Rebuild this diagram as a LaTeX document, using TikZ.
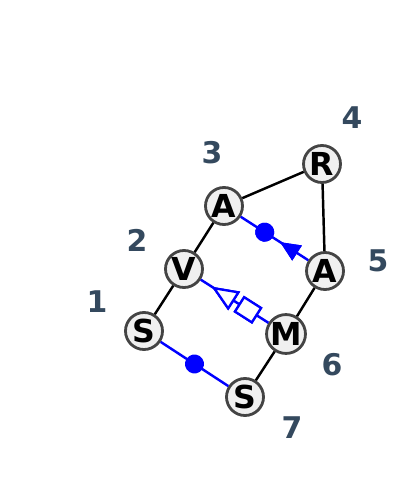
\documentclass[tikz,border=0pt]{standalone}
\usepackage{fontspec}
\setsansfont{DejaVu Sans}
\usetikzlibrary{positioning,calc,decorations.markings}
\definecolor{ringgray}{HTML}{444444}
\definecolor{nodefill}{HTML}{F0F0F0}
\definecolor{numcolor}{HTML}{34495E}

\begin{document}
\begin{tikzpicture}[x=0.02cm,y=-0.02cm,line width=1.4pt,
  main node/.style={circle,draw=ringgray,fill=nodefill,line width=1.6pt,
    minimum size=0.74cm,inner sep=0pt,font=\sffamily\bfseries\fontsize{18}{21}\selectfont},
  num/.style={text=numcolor,font=\sffamily\bfseries\fontsize{17}{20}\selectfont},
  blue edge/.style={draw=blue,line width=1.4pt},
  dot mid/.style={postaction={decorate},decoration={markings,
    mark=at position #1 with {\fill[blue] (0,0) circle (0.19cm);}}},
  solid back/.style={postaction={decorate},decoration={markings,
    mark=at position #1 with {\fill[blue] (0,0) -- (0.4cm,0.18cm) -- (0.4cm,-0.18cm) -- cycle;}}},
  open back/.style={postaction={decorate},decoration={markings,
    mark=at position #1 with {\draw[blue,fill=white,line width=1.3pt] (0,0) -- (0.45cm,0.19cm) -- (0.45cm,-0.19cm) -- cycle;}}},
  open box/.style={postaction={decorate},decoration={markings,
    mark=at position #1 with {\draw[blue,fill=white,line width=1.3pt] (-0.2cm,-0.17cm) rectangle (0.2cm,0.17cm);}}}]
    \useasboundingbox (0,0) rectangle (400,492);
    \node[main node] (S1) at (144,331) {S};
    \node[main node] (V) at (184,269) {V};
    \node[main node] (A3) at (224,206) {A};
    \node[main node] (R) at (322,164) {R};
    \node[main node] (A5) at (325,271) {A};
    \node[main node] (M) at (286,334) {M};
    \node[main node] (S7) at (245,397) {S};
    % position numbers
    \node[num] (n1) at (97,302) {1};
    \node[num] (n2) at (137,240) {2};
    \node[num] (n3) at (212,153) {3};
    \node[num] (n4) at (352,118) {4};
    \node[num] (n5) at (378,261) {5};
    \node[num] (n6) at (332,365) {6};
    \node[num] (n7) at (292,428) {7};
    % backbone
    \path[draw=black] (S1) -- (V) -- (A3) -- (R) -- (A5) -- (M) -- (S7);
    % links
    \path[blue edge,dot mid=0.57cm,solid back=0.94cm] (A3) -- (A5);
    \path[blue edge,open back=0.32cm,open box=1.12cm] (V) -- (M);
    \path[blue edge,dot mid=0.5] (S1) -- (S7);
\end{tikzpicture}
\end{document}
